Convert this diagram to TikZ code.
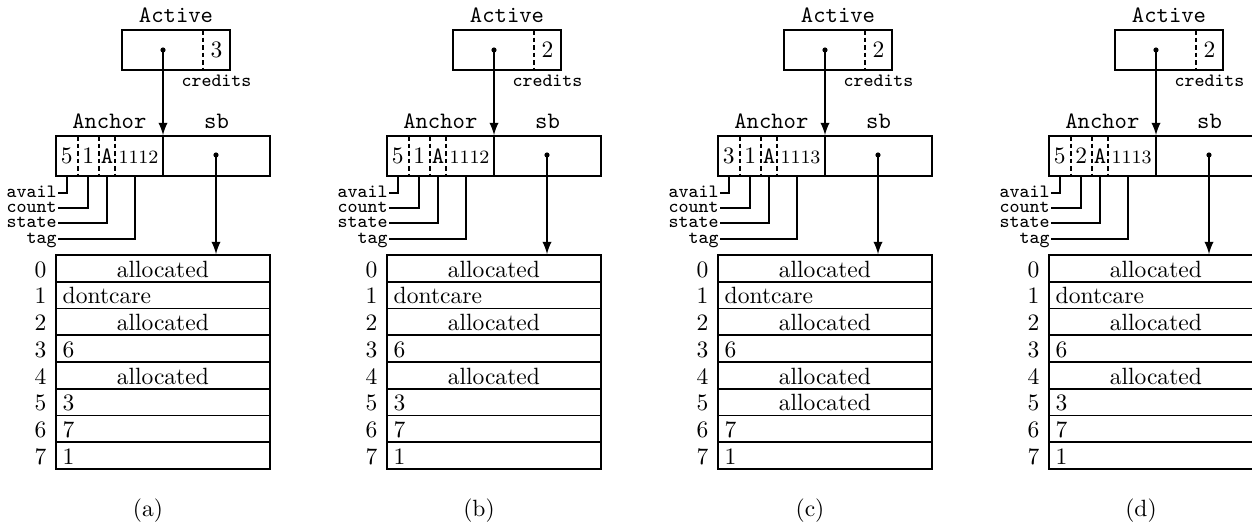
\documentclass[tikz,border=0pt]{standalone}

\tikzset{
  box/.style={draw, thick, inner sep=0pt},
  boxname/.style={font=\ttfamily, inner sep=2.5pt},
  field/.style={inner sep=0pt, text height=6.5pt, text depth=0pt},
  fieldname/.style={font=\ttfamily\footnotesize, anchor=east, inner sep=0.5pt, text height=3.6pt, text depth=0pt},
  cell/.style={draw, thick, minimum height=11.37pt, text width=85.1pt, inner xsep=3pt, inner ysep=0pt, text height=7.4pt, text depth=0pt},
  idx/.style={anchor=east, inner xsep=3.3pt, inner ysep=0pt, text height=7.4pt, text depth=0pt},
  divider/.style={thick, dash pattern=on 2pt off 1.2pt},
  ptrdot/.style={circle, fill, inner sep=0pt, minimum size=2.2pt},
  ptrarrow/.style={thick, -latex},
}

% #1 shift, #2 panel letter, #3 credits, #4 avail, #5 count, #6 tag, #7 rows
\newcommand{\heappanel}[7]{%
\begin{scope}[shift={(#1,0)}]
% active
\node[box, minimum width=45.9pt, minimum height=17pt] (#2-act) at (176,50) {};
\node[boxname, above] at (#2-act.north) {Active};
\draw[divider] (203,30) -- (203,70);
\node (#2-cred) at (216.5,50) {#3};
\node[boxname, below, font=\ttfamily\footnotesize, inner sep=1.5pt] at (#2-cred |- #2-act.south) {credits};
\node[ptrdot] (#2-aptr) at (163,50) {};
% anchor and sb
\node[box, minimum width=45.6pt, minimum height=17pt] (#2-anc) at (109.35,156) {};
\node[box, minimum width=45.5pt, minimum height=17pt] (#2-sb) at (216.5,156) {};
\node[boxname, above] at (#2-anc.north) {Anchor};
\node[boxname, above] at (#2-sb.north) {sb};
\foreach \x in {77.7,99,115} \draw[divider] (\x,136) -- (\x,176);
\node[field] (#2-avail) at (66.7,156) {#4};
\node[field] (#2-count) at (88.3,156) {#5};
\node[field] (#2-state) at (107,156) {\texttt{A}};
\node[field, font=\footnotesize] (#2-tag) at (138.5,156) {#6};
\coordinate (#2-tagc) at (135,176);
\node[ptrdot] (#2-sptr) at (216,155) {};
% field names
\node[fieldname] (#2-lavail) at (58.3,193) {avail};
\node[fieldname] (#2-lcount) at (58.3,208) {count};
\node[fieldname] (#2-lstate) at (58.3,223) {state};
\node[fieldname] (#2-ltag) at (58.3,239) {tag};
\draw[thick] (#2-avail |- #2-anc.south) |- (#2-lavail);
\draw[thick] (#2-count |- #2-anc.south) |- (#2-lcount);
\draw[thick] (#2-state |- #2-anc.south) |- (#2-lstate);
\draw[thick] (#2-tagc) |- (#2-ltag);
% superblock
\foreach \al/\txt [count=\i from 0] in {#7} {
  \node[cell, align=\al] (#2-r\i) at (162.85,{255+26.75*(\i+0.5)}) {\txt};
  \node[idx] (#2-n\i) at (#2-r\i.west) {\i};
}
\draw[ptrarrow] (#2-aptr.center) -- (#2-aptr |- #2-anc.north);
\draw[ptrarrow] (#2-sptr.center) -- (#2-sptr |- #2-r0.north);
\node (#2-cap) at (148,511) {(#2)};
\end{scope}}

\begin{document}
\begin{tikzpicture}[x=0.425pt, y=-0.425pt]

\clip (0,0) rectangle (1252,527);

\heappanel{0}{a}{3}{5}{1}{1112}{center/allocated, left/dontcare, center/allocated, left/6, center/allocated, left/3, left/7, left/1}
\heappanel{331}{b}{2}{5}{1}{1112}{center/allocated, left/dontcare, center/allocated, left/6, center/allocated, left/3, left/7, left/1}
\heappanel{662}{c}{2}{3}{1}{1113}{center/allocated, left/dontcare, center/allocated, left/6, center/allocated, center/allocated, left/7, left/1}
\heappanel{993}{d}{2}{5}{2}{1113}{center/allocated, left/dontcare, center/allocated, left/6, center/allocated, left/3, left/7, left/1}

\end{tikzpicture}
\end{document}
